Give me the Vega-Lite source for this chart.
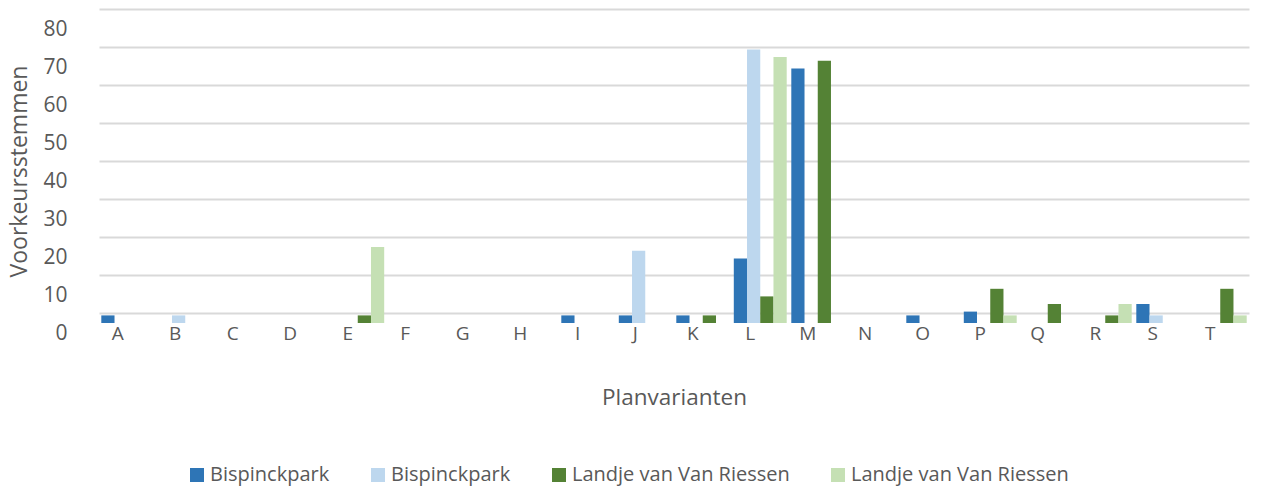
{
  "$schema": "https://vega.github.io/schema/vega-lite/v6.json",
  "autosize": {"type": "none"},
  "width": 1150,
  "height": 304,
  "padding": {"left": 99, "top": 19, "right": 14, "bottom": 167},
  "background": "white",
  "config": {
    "font": "Open Sans",
    "view": {"stroke": null},
    "axis": {"labelColor": "#595959", "titleColor": "#595959", "labelFont": "Open Sans", "titleFont": "Open Sans", "titleFontWeight": "normal"},
    "legend": {"labelColor": "#595959", "labelFont": "Open Sans"}
  },
  "data": {
    "values": [
      {"plan": "A", "serie": "s1", "stemmen": 2}, {"plan": "A", "serie": "s2", "stemmen": 0}, {"plan": "A", "serie": "s3", "stemmen": 0}, {"plan": "A", "serie": "s4", "stemmen": 0},
      {"plan": "B", "serie": "s1", "stemmen": 0}, {"plan": "B", "serie": "s2", "stemmen": 2}, {"plan": "B", "serie": "s3", "stemmen": 0}, {"plan": "B", "serie": "s4", "stemmen": 0},
      {"plan": "C", "serie": "s1", "stemmen": 0}, {"plan": "C", "serie": "s2", "stemmen": 0}, {"plan": "C", "serie": "s3", "stemmen": 0}, {"plan": "C", "serie": "s4", "stemmen": 0},
      {"plan": "D", "serie": "s1", "stemmen": 0}, {"plan": "D", "serie": "s2", "stemmen": 0}, {"plan": "D", "serie": "s3", "stemmen": 0}, {"plan": "D", "serie": "s4", "stemmen": 0},
      {"plan": "E", "serie": "s1", "stemmen": 0}, {"plan": "E", "serie": "s2", "stemmen": 0}, {"plan": "E", "serie": "s3", "stemmen": 2}, {"plan": "E", "serie": "s4", "stemmen": 20},
      {"plan": "F", "serie": "s1", "stemmen": 0}, {"plan": "F", "serie": "s2", "stemmen": 0}, {"plan": "F", "serie": "s3", "stemmen": 0}, {"plan": "F", "serie": "s4", "stemmen": 0},
      {"plan": "G", "serie": "s1", "stemmen": 0}, {"plan": "G", "serie": "s2", "stemmen": 0}, {"plan": "G", "serie": "s3", "stemmen": 0}, {"plan": "G", "serie": "s4", "stemmen": 0},
      {"plan": "H", "serie": "s1", "stemmen": 0}, {"plan": "H", "serie": "s2", "stemmen": 0}, {"plan": "H", "serie": "s3", "stemmen": 0}, {"plan": "H", "serie": "s4", "stemmen": 0},
      {"plan": "I", "serie": "s1", "stemmen": 2}, {"plan": "I", "serie": "s2", "stemmen": 0}, {"plan": "I", "serie": "s3", "stemmen": 0}, {"plan": "I", "serie": "s4", "stemmen": 0},
      {"plan": "J", "serie": "s1", "stemmen": 2}, {"plan": "J", "serie": "s2", "stemmen": 19}, {"plan": "J", "serie": "s3", "stemmen": 0}, {"plan": "J", "serie": "s4", "stemmen": 0},
      {"plan": "K", "serie": "s1", "stemmen": 2}, {"plan": "K", "serie": "s2", "stemmen": 0}, {"plan": "K", "serie": "s3", "stemmen": 2}, {"plan": "K", "serie": "s4", "stemmen": 0},
      {"plan": "L", "serie": "s1", "stemmen": 17}, {"plan": "L", "serie": "s2", "stemmen": 72}, {"plan": "L", "serie": "s3", "stemmen": 7}, {"plan": "L", "serie": "s4", "stemmen": 70},
      {"plan": "M", "serie": "s1", "stemmen": 67}, {"plan": "M", "serie": "s2", "stemmen": 0}, {"plan": "M", "serie": "s3", "stemmen": 69}, {"plan": "M", "serie": "s4", "stemmen": 0},
      {"plan": "N", "serie": "s1", "stemmen": 0}, {"plan": "N", "serie": "s2", "stemmen": 0}, {"plan": "N", "serie": "s3", "stemmen": 0}, {"plan": "N", "serie": "s4", "stemmen": 0},
      {"plan": "O", "serie": "s1", "stemmen": 2}, {"plan": "O", "serie": "s2", "stemmen": 0}, {"plan": "O", "serie": "s3", "stemmen": 0}, {"plan": "O", "serie": "s4", "stemmen": 0},
      {"plan": "P", "serie": "s1", "stemmen": 3}, {"plan": "P", "serie": "s2", "stemmen": 0}, {"plan": "P", "serie": "s3", "stemmen": 9}, {"plan": "P", "serie": "s4", "stemmen": 2},
      {"plan": "Q", "serie": "s1", "stemmen": 0}, {"plan": "Q", "serie": "s2", "stemmen": 0}, {"plan": "Q", "serie": "s3", "stemmen": 5}, {"plan": "Q", "serie": "s4", "stemmen": 0},
      {"plan": "R", "serie": "s1", "stemmen": 0}, {"plan": "R", "serie": "s2", "stemmen": 0}, {"plan": "R", "serie": "s3", "stemmen": 2}, {"plan": "R", "serie": "s4", "stemmen": 5},
      {"plan": "S", "serie": "s1", "stemmen": 5}, {"plan": "S", "serie": "s2", "stemmen": 2}, {"plan": "S", "serie": "s3", "stemmen": 0}, {"plan": "S", "serie": "s4", "stemmen": 0},
      {"plan": "T", "serie": "s1", "stemmen": 0}, {"plan": "T", "serie": "s2", "stemmen": 0}, {"plan": "T", "serie": "s3", "stemmen": 9}, {"plan": "T", "serie": "s4", "stemmen": 2}
    ]
  },
  "mark": {"type": "bar"},
  "encoding": {
    "x": {
      "field": "plan", "type": "nominal",
      "scale": {"paddingInner": 0.08, "paddingOuter": 0.04},
      "axis": {"title": "Planvarianten", "labelAngle": 0, "labelFontSize": 19, "titleFontSize": 22.5, "ticks": false, "domain": false, "labelPadding": 1, "labelOffset": -10, "titlePadding": 43}
    },
    "xOffset": {"field": "serie", "type": "nominal", "scale": {"domain": ["s1", "s2", "s3", "s4"], "paddingInner": 0, "paddingOuter": 0}},
    "y": {
      "field": "stemmen", "type": "quantitative",
      "scale": {"domain": [0, 80], "nice": false},
      "axis": {"title": "Voorkeursstemmen", "values": [0, 10, 20, 30, 40, 50, 60, 70, 80], "labelFontSize": 21, "titleFontSize": 23, "ticks": false, "domain": false, "gridColor": "#d9d9d9", "gridWidth": 2, "tickOffset": -10, "labelOffset": 20, "labelPadding": 32, "titlePadding": 11}
    },
    "color": {
      "field": "serie", "type": "nominal",
      "scale": {"domain": ["s1", "s2", "s3", "s4"], "range": ["#2e75b6", "#bdd7ee", "#548235", "#c5e0b4"]},
      "legend": {
        "title": null, "orient": "none", "direction": "horizontal", "legendX": 88, "legendY": 446,
        "labelExpr": "datum.value == 's1' || datum.value == 's2' ? 'Bispinckpark' : 'Landje van Van Riessen'",
        "symbolType": "square", "symbolSize": 196, "symbolStrokeWidth": 0, "labelFontSize": 20, "labelOffset": 3, "labelLimit": 0, "columnPadding": 38
      }
    }
  }
}
